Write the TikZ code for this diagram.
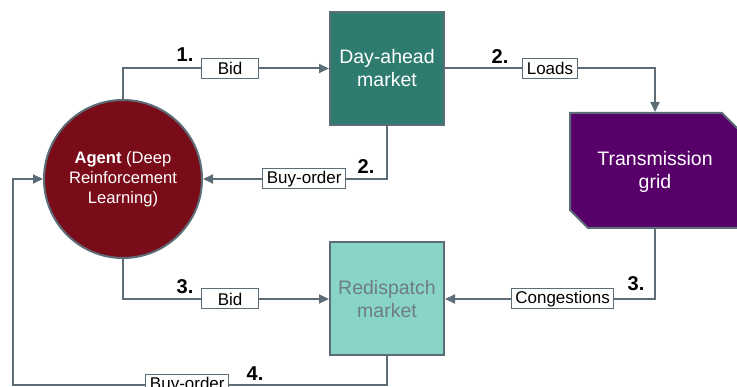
\documentclass[tikz,border=0pt]{standalone}
\usepackage{fontspec}
\setmainfont{Liberation Sans}
\usetikzlibrary{arrows.meta,shapes.misc}

\definecolor{linegray}{RGB}{93,109,120}
\definecolor{agentred}{RGB}{122,12,26}
\definecolor{damteal}{RGB}{46,123,112}
\definecolor{gridpurple}{RGB}{88,0,106}
\definecolor{rdmteal}{RGB}{136,212,198}
\definecolor{rdmtext}{RGB}{110,125,132}

\begin{document}
\begin{tikzpicture}[x=1pt,y=-1pt,
    flow/.style={draw=linegray,line width=2pt,-{Triangle[length=10pt,width=9pt]}},
    market/.style={draw=linegray,line width=2pt,minimum width=114pt,minimum height=113pt,
      align=center,font=\fontsize{19.5}{23}\selectfont},
    lbl/.style={draw=linegray,line width=1pt,fill=white,text=black,inner xsep=4pt,
      inner ysep=1pt,minimum height=20pt,font=\fontsize{17}{20}\selectfont},
    stepno/.style={font=\bfseries\fontsize{20}{24}\selectfont}]
  \useasboundingbox (0,0) rectangle (737,387);

  % AGENT AND MARKETS
  \node[circle,draw=linegray,line width=2pt,fill=agentred,minimum size=158pt,
    inner sep=0pt,text=white,align=center,font=\fontsize{16.6}{20}\selectfont]
    (agent) at (123,179) {\textbf{Agent} (Deep\\Reinforcement\\Learning)};
  \node[market,fill=damteal,text=white] (dam) at (387,68.5) {Day-ahead\\market};
  \node[market,chamfered rectangle,chamfered rectangle corners={north east,south west},
    chamfered rectangle xsep=9pt,chamfered rectangle ysep=9pt,
    minimum width=170pt,minimum height=115pt,fill=gridpurple,text=white]
    (tgrid) at (655,170.5) {\strut Transmission\\grid};
  \node[market,fill=rdmteal,text=rdmtext] (rdm) at (387,299) {Redispatch\\market};

  % ARROWS
  \coordinate (loop) at (13,385);
  \draw[flow] (agent.north) |- (dam.west) node[lbl,pos=0.76,minimum width=57pt] {Bid};
  \draw[flow] (dam.south) |- (agent.east) node[lbl,pos=0.725] {Buy-order};
  \draw[flow] (dam.east) -| (tgrid.north) node[lbl,pos=0.25] {Loads};
  \draw[flow] (tgrid.south) |- (rdm.east) node[lbl,pos=0.72] {Congestions};
  \draw[flow] (agent.south) |- (rdm.west) node[lbl,pos=0.76,minimum width=57pt] {Bid};
  \draw[flow] (rdm.south) |- (loop) node[lbl,pos=0.767] {Buy-order} |- (agent.west);

  % STEP NUMBERS
  \node[stepno] (n1) at (185,55) {1.};
  \node[stepno] (n2a) at (366,167) {2.};
  \node[stepno] (n2b) at (500,57) {2.};
  \node[stepno] (n3a) at (185,287) {3.};
  \node[stepno] (n3b) at (636,284) {3.};
  \node[stepno] (n4) at (255,374) {4.};
\end{tikzpicture}
\end{document}
